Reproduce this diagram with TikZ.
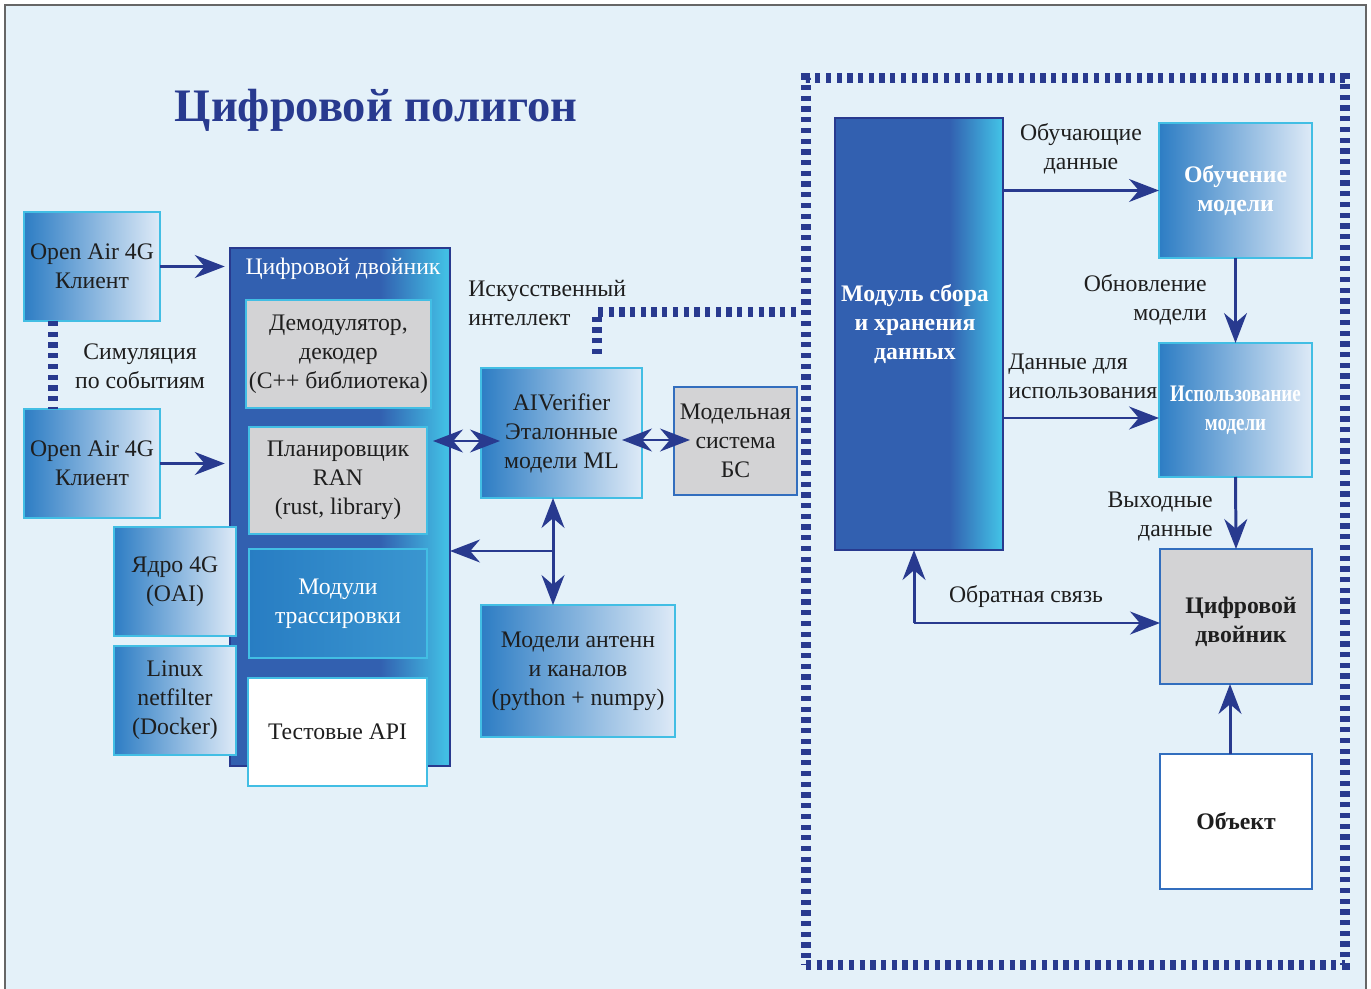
\documentclass[tikz,border=0pt]{standalone}
\usepackage{fontspec}
\setmainfont{Liberation Serif}
\usepackage{graphicx}
\usetikzlibrary{arrows.meta,positioning,calc}

\definecolor{bgblue}{RGB}{228,241,249}
\definecolor{navy}{RGB}{40,58,143}
\definecolor{dblue}{RGB}{50,96,176}
\definecolor{gstart}{RGB}{45,125,196}
\definecolor{gend}{RGB}{222,234,247}
\definecolor{tstart}{RGB}{40,125,195}
\definecolor{tend}{RGB}{58,150,208}
\definecolor{cyanc}{RGB}{66,190,228}
\definecolor{grayc}{RGB}{211,211,213}
\definecolor{edgeblue}{RGB}{50,110,190}
\definecolor{txtc}{RGB}{30,30,30}
\pgfdeclarehorizontalshading{slab}{100bp}{color(0bp)=(dblue); color(25bp)=(dblue);
  color(59bp)=(dblue); color(74bp)=(cyanc); color(100bp)=(cyanc)}
\newcommand{\bodyfont}{\fontsize{13.5}{16.5}\selectfont}

\begin{document}
\begin{tikzpicture}[
  x=0.02cm,y=-0.02cm,font=\bodyfont,
  >={Stealth[length=17pt,width=13pt,inset=5.5pt]},
  sz/.style 2 args={minimum width=#1*0.02cm,minimum height=#2*0.02cm},
  box/.style={inner sep=0pt,outer sep=0pt,align=center,line width=1.2pt},
  grad/.style={box,left color=gstart,right color=gend,draw=cyanc,text=txtc},
  grey/.style={box,fill=grayc,draw=cyanc,text=txtc},
  slab/.style={box,shade,shading=slab,draw=navy,line width=1.6pt},
  bold/.style={font=\bodyfont\bfseries},
  zone/.style={draw=navy,line width=5.8pt,dash pattern=on 3pt off 3.1pt,inner sep=0pt},
  lbl/.style={inner sep=0pt,align=center,text=txtc},
  arr/.style={->,navy,line width=1.7pt},
  darr/.style={<->,navy,line width=1.7pt},
  dots/.style={navy,line width=5.8pt,dash pattern=on 3pt off 3.1pt},
]
\useasboundingbox (0,0) rectangle (1371,989);
\draw[fill=bgblue,draw=black!60,line width=1pt] (5,5) rectangle (1366,1010);

% ---- title --------------------------------------------------------------
\node[font=\fontsize{26.5}{32}\selectfont\bfseries,text=navy] (title) at (376,110) {Цифровой полигон};

% ---- clients ------------------------------------------------------------
\node[grad,sz={136}{109}] (oa1) at (92,266.5) {Open Air 4G\\Клиент};
\node[grad,sz={136}{109}] (oa2) at (92,463.5) {Open Air 4G\\Клиент};
\node[lbl] (simlbl) at (140,366) {Симуляция\\по событиям};

% ---- digital twin -------------------------------------------------------
\node[slab,sz={220}{518}] (twin) at (340,507) {};
\node[lbl,text=white] (twinlbl) at (343,269) {Цифровой двойник};
\node[grey,sz={185}{108}] (demod) at (338.5,354) {Демодулятор,\\декодер\\(C++ библиотека)};
\node[grey,sz={178}{107}] (sched) at (338,480.5) {Планировщик\\RAN\\(rust, library)};
\node[box,left color=tstart,right color=tend,draw=cyanc,text=white,sz={178}{109}] (trace)
  at (338,603.5) {Модули\\трассировки};
\node[box,fill=white,draw=cyanc,text=txtc,sz={179}{108}] (api) at (337.5,732) {Тестовые API};
\node[grad,sz={122}{109}] (core) at (175,581.5) {Ядро 4G\\(OAI)};
\node[grad,sz={122}{109}] (netf) at (175,700.5) {Linux\\netfilter\\(Docker)};

% ---- models -------------------------------------------------------------
\node[lbl,align=left,anchor=west] (ailbl) at (468,303) {Искусственный\\интеллект};
\node[grad,sz={161}{130}] (aiv) at (561.5,433) {AIVerifier\\Эталонные\\модели ML};
\node[grey,draw=edgeblue,sz={123}{108}] (bs) at (735.5,441) {Модельная\\система\\БС};
\node[grad,sz={194}{132}] (ant) at (578,671) {Модели антенн\\и каналов\\(python + numpy)};

% ---- data loop ----------------------------------------------------------
\node[zone,sz={539}{887}] (zone) at (1075.5,521.5) {};
\node[slab,sz={168}{432}] (store) at (919,334) {};
\node[lbl,bold,text=white] (storelbl) at (915,324) {Модуль сбора\\и хранения\\данных};
\node[grad,bold,text=white,sz={153}{135}] (train) at (1235.5,190.5) {Обучение\\модели};
\node[grad,bold,text=white,sz={153}{134}] (use) at (1235.5,410)
  {\scalebox{0.8}[1]{Использование}\\\scalebox{0.8}[1]{модели}};
\node[grey,bold,draw=edgeblue,sz={152}{135}] (dtwin) at (1236,616.5) {};
\node[lbl,bold] (dtwinlbl) at (1241,622) {Цифровой\\двойник};
\node[box,bold,fill=white,draw=edgeblue,text=txtc,sz={152}{135}] (obj) at (1236,821.5) {Объект};
\node[lbl] (trainlbl) at (1081,149) {Обучающие\\данные};
\node[lbl,align=right,anchor=east] (updlbl) at (1207,300) {Обновление\\модели};
\node[lbl,align=left,anchor=west] (uselbl) at (1008,376) {Данные для\\использования};
\node[lbl,align=right,anchor=east] (outlbl) at (1213,517) {Выходные\\данные};
\node[lbl] (fblbl) at (1026,597) {Обратная связь};

% ---- connectors ---------------------------------------------------------
\draw[dots] ($(oa1.south west)+(29,0)$) -- ($(oa2.north west)+(29,0)$);
\draw[arr,shorten >=3pt] (oa1.east) -- (oa1.east -| twin.west);
\draw[arr,shorten >=3pt] (oa2.east) -- (oa2.east -| twin.west);
\coordinate (aitap) at (597,354);
\coordinate (aibend) at (597,312);
\draw[dots] (aitap) -- (aibend) -- (aibend -| zone.west);
\draw[darr] ($(sched.east |- aiv.west)+(6,8)$) -- ($(aiv.west)+(19,8)$);
\draw[darr] ($(bs.west)+(-52,-1)$) -- ($(bs.west)+(16,-1)$);
\coordinate (jn) at (553,551);
\draw[darr] (jn |- aiv.south) -- (jn |- ant.north);
\draw[arr] (jn) -- (jn -| twin.east);

\draw[arr] (store.east |- train.west) -- (train.west);
\draw[arr] (train.south) -- (use.north);
\coordinate (usein) at ($(use.west)+(0,8)$);
\draw[arr] (store.east |- usein) -- (usein);
\draw[arr] (use.south) -- (dtwin.north);
\coordinate (fb) at (914,623);
\draw[arr] (fb) -- (fb -| dtwin.west);
\draw[arr] (fb) -- (fb |- store.south);
\draw[arr] ($(obj.north)+(-6,0)$) -- ($(dtwin.south)+(-6,0)$);
\end{tikzpicture}
\end{document}
